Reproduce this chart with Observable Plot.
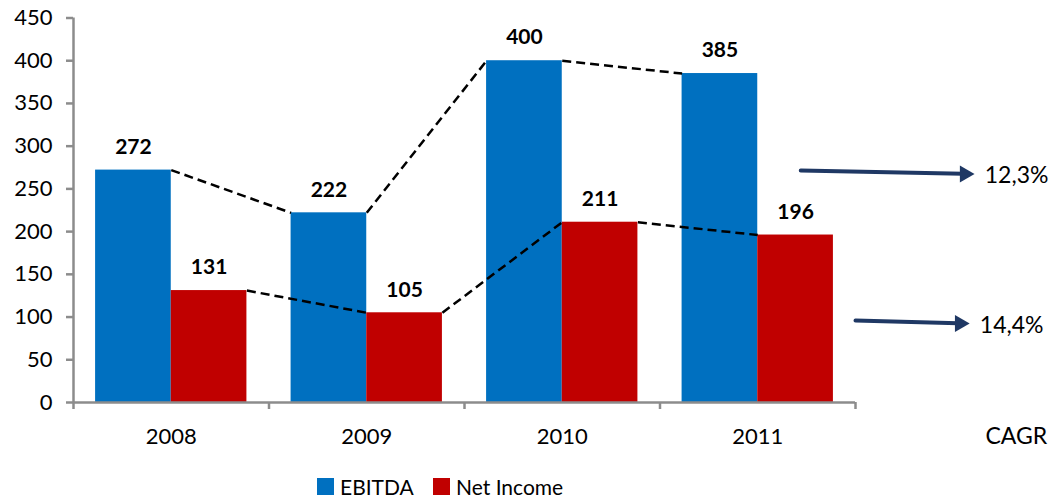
<!DOCTYPE html>
<html>
<head>
<meta charset="utf-8">
<script src="https://cdn.jsdelivr.net/npm/d3@7"></script>
<script src="https://cdn.jsdelivr.net/npm/@observablehq/plot@0.6"></script>
<style>
  body { margin: 0; background: #fff; font-family: Lato, "Open Sans", sans-serif; }
  #chart svg { display: block; }
  .legend { position: relative; height: 27px; }
  .legend .item { position: absolute; top: 8px; display: flex; align-items: center; height: 17px; font-size: 21px; color: #000; }
  .legend .sw { width: 17px; height: 17px; margin-right: 6px; }
</style>
</head>
<body>
<div id="chart"></div>
<script>
// ---- data ----
const years = ["2008", "2009", "2010", "2011"];
const ebitda = [272, 222, 400, 385];
const netIncome = [131, 105, 211, 196];
const seriesNames = ["EBITDA", "Net Income"];
const seriesColors = ["#0070C0", "#C00000"];
const yTicks = [0, 50, 100, 150, 200, 250, 300, 350, 400, 450];
const cagrTitle = "CAGR";
const cagrLabels = ["12,3%", "14,4%"];

// ---- layout helpers ----
const pad = 0.113; // gap at each side of a year group, as a fraction of the group
const series = [ebitda, netIncome];
const bars = [];
years.forEach((yr, i) => {
  series.forEach((vals, s) => {
    bars.push({
      year: yr,
      series: seriesNames[s],
      value: vals[i],
      x1: i + (s === 0 ? pad : 0.5),
      x2: i + (s === 0 ? 0.5 : 1 - pad)
    });
  });
});
const links = [];
for (let i = 0; i < years.length - 1; i++) {
  links.push({x1: i + 0.5, y1: ebitda[i], x2: i + 1 + pad, y2: ebitda[i + 1]});
  links.push({x1: i + 1 - pad, y1: netIncome[i], x2: i + 1.5, y2: netIncome[i + 1]});
}
// annotation arrows (CAGR), in data space
const arrows = [
  {x1: 3.72, y1: 271.5, x2: 4.61, y2: 267.5, label: cagrLabels[0]},
  {x1: 4.0, y1: 96, x2: 4.585, y2: 92.5, label: cagrLabels[1]}
];
const gray = "#8c8c8c";
const navy = "#1F3864";

const chart = Plot.plot({
  width: 1052,
  height: 470,
  marginLeft: 73,
  marginRight: 197,
  marginTop: 17.5,
  marginBottom: 68,
  x: {type: "linear", domain: [0, 4], axis: null},
  y: {domain: [0, 450], axis: null},
  color: {domain: seriesNames, range: seriesColors},
  style: {fontFamily: "Lato, 'Open Sans', sans-serif", color: "#000", background: "#fff"},
  marks: [
    Plot.rectY(bars, {x1: "x1", x2: "x2", y: "value", fill: "series"}),
    Plot.link(links, {x1: "x1", y1: "y1", x2: "x2", y2: "y2", stroke: "#000", strokeWidth: 2.5, strokeDasharray: "9,5"}),
    Plot.text(bars, {x: d => (d.x1 + d.x2) / 2, y: "value", text: d => String(d.value), dy: -23, lineAnchor: "middle", fontWeight: "bold", fontSize: 21, fill: "#000"}),
    Plot.ruleY([0], {stroke: gray, strokeWidth: 2.5}),
    Plot.ruleX([0], {stroke: gray, strokeWidth: 2.5}),
    Plot.axisY(yTicks, {tickSize: 7, tickPadding: 14, fontSize: 22, stroke: gray, strokeWidth: 2.5, fill: "#000"}),
    Plot.axisX([0, 1, 2, 3, 4], {tickSize: 7, tickFormat: () => "", stroke: gray, strokeWidth: 2.5}),
    Plot.axisX(years.map((d, i) => i + 0.5), {tickSize: 0, tickPadding: 26, fontSize: 22, tickFormat: v => years[Math.floor(v)], fill: "#000"}),
    Plot.text([cagrTitle], {x: 4.665, y: 0, dy: 34, text: d => d, textAnchor: "start", lineAnchor: "middle", fontSize: 23, fill: "#000"}),
    Plot.arrow(arrows, {x1: "x1", y1: "y1", x2: "x2", y2: "y2", stroke: navy, strokeWidth: 4, headLength: 0, insetEnd: 12}),
    Plot.dot(arrows, {x: "x2", y: "y2", symbol: "triangle", rotate: 90, r: 6.3, fill: navy, stroke: "none", dx: -10}),
    Plot.text(arrows, {x: "x2", y: "y2", text: "label", dx: 10, dy: 2, textAnchor: "start", lineAnchor: "middle", fontSize: 23, fill: "#000"})
  ]
});
document.getElementById("chart").append(chart);

// legend below the chart
const legend = document.createElement("div");
legend.className = "legend";
const lefts = [317, 433];
seriesNames.forEach((name, i) => {
  const item = document.createElement("div");
  item.className = "item";
  item.style.left = lefts[i] + "px";
  const sw = document.createElement("span");
  sw.className = "sw";
  sw.style.background = seriesColors[i];
  const t = document.createElement("span");
  t.textContent = name;
  item.append(sw, t);
  legend.append(item);
});
document.body.append(legend);
</script>
</body>
</html>
